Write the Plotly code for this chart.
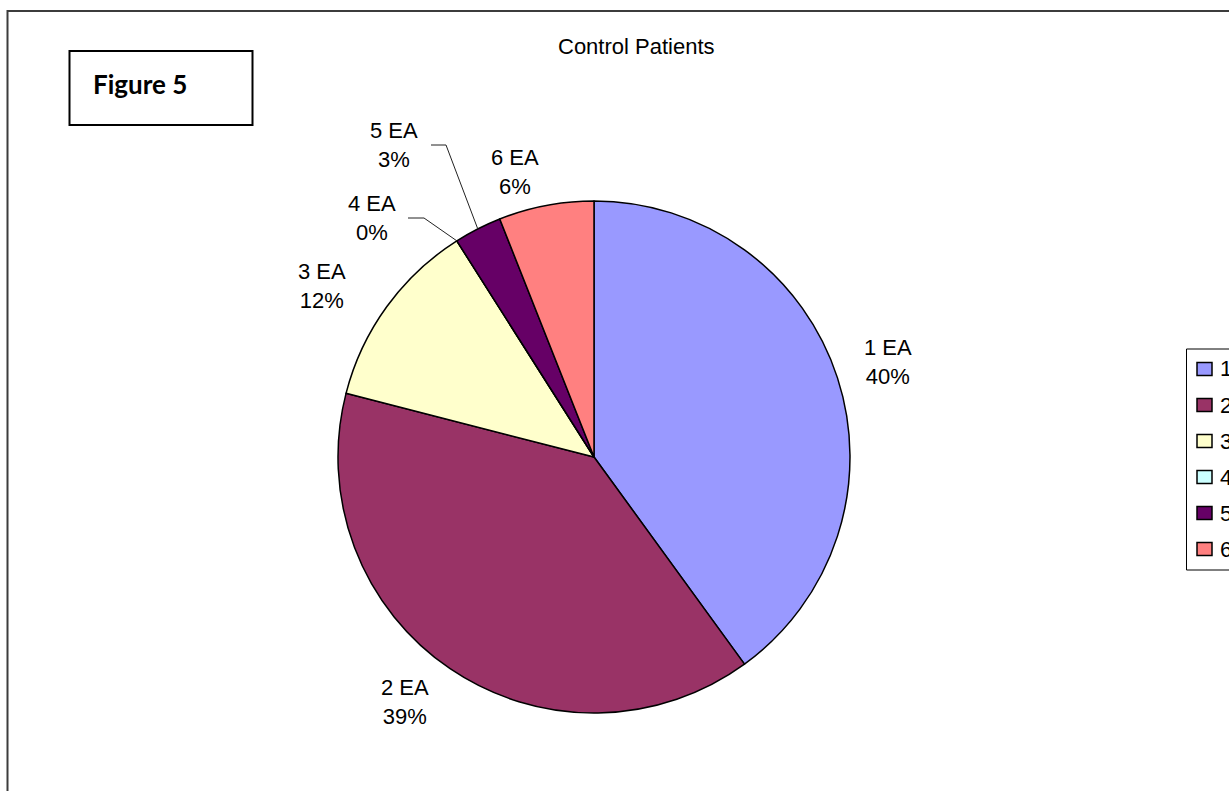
import numpy as np
import plotly.graph_objects as go

# ---- data -------------------------------------------------------------
categories = ["1 EA", "2 EA", "3 EA", "4 EA", "5 EA", "6 EA"]
percentages = [40, 39, 12, 0, 3, 6]
slice_colors = ["#9999FF", "#993366", "#FFFFCC", "#CCFFFF", "#660066", "#FF8080"]
chart_title = "Control Patients"
figure_tag = "Figure 5"

# ---- geometry (pixels) ------------------------------------------------
W, H = 1229, 791
CX, CY, R = 594, 457, 256          # pie centre and radius
FONT = "Liberation Sans, Arial, sans-serif"
LABEL_SIZE = 22

# label block centres around the pie
label_xy = {
    "1 EA": (888, 362),
    "2 EA": (405, 702),
    "3 EA": (322, 286),
    "4 EA": (372, 218),
    "5 EA": (394, 145),
    "6 EA": (515, 172),
}
# horizontal part of the leader lines for the small slices (x from, x to)
leader_x = {"4 EA": (408, 424), "5 EA": (431, 446)}


def px(x, y):
    """pixel position -> paper coordinates"""
    return x / W, 1 - y / H


total = float(sum(percentages))
cum = np.concatenate([[0.0], np.cumsum(percentages)]) / total


def arc_point(frac):
    th = 2 * np.pi * frac
    return CX + R * np.sin(th), CY - R * np.cos(th)


fig = go.Figure(
    go.Pie(
        labels=categories,
        values=percentages,
        sort=False,
        direction="clockwise",
        rotation=0,
        marker=dict(colors=slice_colors, line=dict(color="black", width=1.5)),
        textinfo="none",
        hovertemplate="%{label}: %{value}%<extra></extra>",
        domain=dict(
            x=[(CX - R) / W, (CX + R) / W],
            y=[1 - (CY + R) / H, 1 - (CY - R) / H],
        ),
        showlegend=False,
    )
)

shapes = []
annotations = []

# outer chart-area frame
x0, y0 = px(7.5, 11)
x1, y1 = px(1300, 900)
shapes.append(dict(type="rect", xref="paper", yref="paper", x0=x0, y0=y1, x1=x1, y1=y0,
                   line=dict(color="#3c3c3c", width=2), fillcolor="rgba(0,0,0,0)", layer="below"))

# figure tag box
x0, y0 = px(69.5, 51)
x1, y1 = px(252.5, 125)
shapes.append(dict(type="rect", xref="paper", yref="paper", x0=x0, y0=y1, x1=x1, y1=y0,
                   line=dict(color="black", width=2), fillcolor="white"))
tx, ty = px(140, 84)
annotations.append(dict(x=tx, y=ty, xref="paper", yref="paper", showarrow=False,
                        text=f"<b>{figure_tag}</b>", xanchor="center", yanchor="middle",
                        font=dict(family="Lato, Open Sans, sans-serif", size=26, color="black")))

# chart title
tx, ty = px(636, 46)
annotations.append(dict(x=tx, y=ty, xref="paper", yref="paper", showarrow=False,
                        text=chart_title, xanchor="center", yanchor="middle",
                        font=dict(family=FONT, size=LABEL_SIZE, color="black")))

# slice labels
for i, (cat, val) in enumerate(zip(categories, percentages)):
    lx, ly = label_xy[cat]
    ax, ay = px(lx, ly)
    annotations.append(dict(x=ax, y=ay, xref="paper", yref="paper", showarrow=False,
                            text=f"{cat}<br>{val}%", xanchor="center", yanchor="middle",
                            align="center",
                            font=dict(family=FONT, size=LABEL_SIZE, color="black")))
    if cat in leader_x:
        mid = (cum[i] + cum[i + 1]) / 2
        sx, sy = arc_point(mid)
        hx0, hx1 = leader_x[cat]
        p0 = px(hx0, ly)
        p1 = px(hx1, ly)
        p2 = px(sx, sy)
        for a, b in ((p0, p1), (p1, p2)):
            shapes.append(dict(type="line", xref="paper", yref="paper",
                               x0=a[0], y0=a[1], x1=b[0], y1=b[1],
                               line=dict(color="#222222", width=1)))

# legend box and keys
LEG_LEFT, LEG_TOP, LEG_STEP, LEG_FIRST = 1186.5, 349, 36, 369
lx0, ly0 = px(LEG_LEFT, LEG_TOP)
lx1, ly1 = px(1300, LEG_FIRST + LEG_STEP * (len(categories) - 1) + 21)
shapes.append(dict(type="rect", xref="paper", yref="paper", x0=lx0, y0=ly1, x1=lx1, y1=ly0,
                   line=dict(color="black", width=1), fillcolor="white"))
for i, (cat, col) in enumerate(zip(categories, slice_colors)):
    yc = LEG_FIRST + LEG_STEP * i
    a = px(1197, yc - 6.5)
    b = px(1212, yc + 6.5)
    shapes.append(dict(type="rect", xref="paper", yref="paper", x0=a[0], y0=b[1], x1=b[0], y1=a[1],
                       line=dict(color="black", width=1.5), fillcolor=col))
    t = px(1218, yc)
    annotations.append(dict(x=t[0], y=t[1], xref="paper", yref="paper", showarrow=False,
                            text=cat, xanchor="left", yanchor="middle",
                            font=dict(family=FONT, size=LABEL_SIZE, color="black")))

fig.update_layout(
    width=W,
    height=H,
    margin=dict(l=0, r=0, t=0, b=0, autoexpand=False),
    paper_bgcolor="white",
    plot_bgcolor="white",
    showlegend=False,
    shapes=shapes,
    annotations=annotations,
)

fig.write_html("out.html")
